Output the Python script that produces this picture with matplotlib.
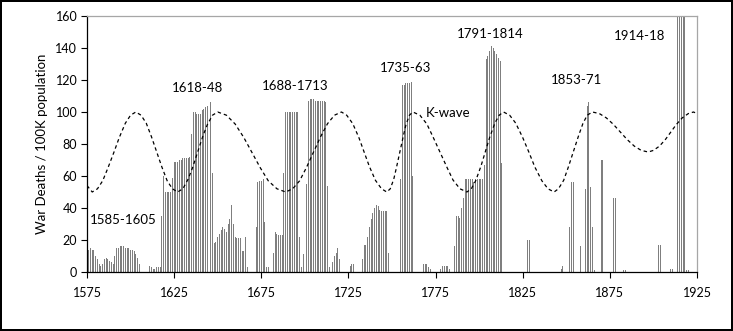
import matplotlib
matplotlib.use("Agg")
import matplotlib.pyplot as plt
import numpy as np

plt.rcParams['font.family'] = ['Lato', 'DejaVu Sans']

first_year = 1575
deaths = [
    # 1575-1579
    7, 14, 15, 14, 14,
    # 1580s
    10, 8, 5, 4, 5, 8, 9, 8, 7, 6,
    # 1590s
    5, 10, 15, 15, 16, 16, 16, 15, 15, 15,
    # 1600s
    14, 14, 13, 11, 9, 5, 0, 0, 0, 0,
    # 1610s
    4, 4, 3, 2, 2, 3, 3, 3, 35, 60,
    # 1620s
    50, 50, 50, 50, 59, 69, 69, 69, 70, 70,
    # 1630s
    71, 71, 71, 71, 72, 86, 100, 100, 99, 99,
    # 1640s
    99, 101, 102, 103, 104, 105, 106, 62, 18, 19,
    # 1650s
    22, 24, 26, 28, 27, 25, 30, 33, 42, 30,
    # 1660s
    22, 21, 21, 21, 13, 13, 22, 3, 0, 0,
    # 1670s
    0, 0, 28, 56, 57, 57, 58, 31, 3, 3,
    # 1680s
    0, 0, 12, 25, 24, 23, 23, 23, 62, 100,
    # 1690s
    100, 100, 100, 100, 100, 100, 100, 22, 3, 11,
    # 1700s
    0, 55, 107, 108, 108, 108, 107, 107, 107, 107,
    # 1710s
    107, 107, 106, 54, 3, 3, 6, 10, 12, 15,
    # 1720s
    8, 0, 0, 0, 0, 0, 4, 5, 5, 0,
    # 1730s
    0, 0, 0, 8, 17, 17, 22, 28, 33, 37,
    # 1740s
    40, 42, 41, 39, 38, 38, 38, 38, 12, 0,
    # 1750s
    0, 0, 0, 0, 0, 58, 117, 117, 118, 118,
    # 1760s
    118, 119, 60, 0, 0, 0, 0, 0, 5, 5,
    # 1770s
    5, 3, 2, 0, 0, 0, 0, 0, 2, 4,
    # 1780s
    4, 4, 4, 2, 0, 0, 16, 35, 35, 34,
    # 1790s
    40, 46, 58, 58, 58, 58, 58, 56, 58, 58,
    # 1800s
    58, 58, 58, 67, 133, 135, 138, 141, 140, 138,
    # 1810s
    136, 134, 132, 68, 0, 0, 0, 0, 0, 0,
    # 1820s
    0, 0, 0, 0, 0, 0, 0, 0, 20, 20,
    # 1830s
    0, 0, 0, 0, 0, 0, 0, 0, 0, 0,
    # 1840s
    0, 0, 0, 0, 0, 0, 0, 2, 4, 0,
    # 1850s
    0, 0, 28, 56, 56, 28, 0, 0, 16, 0,
    # 1860s
    0, 52, 104, 106, 53, 28, 1, 0, 0, 0,
    # 1870s
    70, 70, 0, 0, 0, 0, 0, 46, 46, 0,
    # 1880s
    0, 0, 0, 1, 1, 0, 0, 0, 0, 0,
    # 1890s
    0, 0, 0, 0, 0, 0, 0, 0, 0, 0,
    # 1900s
    0, 0, 0, 17, 17, 0, 0, 0, 0, 0,
    # 1910s
    2, 2, 0, 0, 200, 220, 230, 240, 210, 1,
    # 1920-1925
    1, 0, 0, 0, 0, 0,
]
years = np.arange(first_year, first_year + len(deaths))

kwave_years = [1575, 1578, 1581, 1584, 1587, 1590.5, 1593.5, 1597, 1600, 1603,
               1606, 1609, 1612, 1615, 1618, 1621, 1624, 1627, 1630, 1633,
               1635.5, 1638.5, 1641.5, 1644, 1647, 1650, 1655, 1660, 1665, 1669.5,
               1674.5, 1679, 1684, 1689, 1693, 1697, 1701, 1705, 1709, 1713,
               1717, 1721, 1724, 1727.5, 1731, 1734, 1737, 1740.5, 1744, 1747,
               1749, 1751, 1752.5, 1754.5, 1756.5, 1758, 1760, 1762, 1766, 1770,
               1773.5, 1777.5, 1781.5, 1785, 1789, 1793, 1795.5, 1798, 1801, 1803.5,
               1806, 1809, 1811.5, 1814, 1817.5, 1821, 1825, 1828.5, 1832, 1836,
               1839.5, 1843, 1845.5, 1848.5, 1851, 1854, 1857, 1859.5, 1862, 1865,
               1869, 1873, 1877, 1881, 1885, 1889, 1893, 1897, 1900, 1903.5,
               1907, 1910, 1913, 1916.5, 1920, 1923, 1925]
kwave_values = [54, 50, 52, 57, 65, 75, 84, 93, 98, 100,
                98, 93, 84.5, 75, 65.5, 57, 52, 50, 52, 58,
                65, 75, 85, 92, 98, 100, 98, 92.5, 84, 75,
                65, 57, 52, 50, 52, 57, 65.5, 75, 84.5, 92.7,
                98, 100, 98, 92.7, 84, 75, 66, 57.3, 52, 50,
                52, 58, 65, 75, 85, 92, 98, 100, 98, 92.5,
                84.5, 75, 65.5, 57.5, 52, 50, 52, 57, 66, 75,
                84, 93, 98, 100, 98, 93, 84, 75, 65.5, 57,
                52, 50, 52, 57.3, 65, 75, 85, 92.7, 98, 100,
                99, 96.3, 92.3, 87.5, 82.7, 78.7, 76, 75, 76, 78.7,
                83, 87.5, 92, 96.3, 99, 100, 99]

labels = ["1585-1605", "1618-48", "1688-1713", "1735-63", "K-wave",
          "1791-1814", "1853-71", "1914-18"]
label_x = [1596, 1638.5, 1694.5, 1757.5, 1782, 1806.5, 1856, 1892]
label_y = [32.5, 115, 116, 127.5, 99.5, 148.5, 120, 147.5]

x_ticks = [1575, 1625, 1675, 1725, 1775, 1825, 1875, 1925]
y_ticks = [0, 20, 40, 60, 80, 100, 120, 140, 160]

fig = plt.figure(figsize=(7.33, 3.31), dpi=100)
ax = fig.add_axes([87 / 733, 59 / 331, 610 / 733, 256 / 331])

ax.bar(years, deaths, width=0.55, color='#7f7f7f', edgecolor='none', zorder=2)
ax.plot(kwave_years, kwave_values, color='black', lw=0.9,
        linestyle=(0, (2.8, 2.4)), zorder=3)

for t, lx, ly in zip(labels, label_x, label_y):
    ax.text(lx, ly, t, ha='center', va='center', fontsize=9.5, color='black')

ax.set_xlim(1575, 1925)
ax.set_ylim(0, 160)
ax.set_xticks(x_ticks)
ax.set_yticks(y_ticks)
ax.tick_params(axis='both', direction='out', length=4, width=0.8,
               labelsize=9, colors='black', pad=3)
ax.tick_params(axis='x', pad=7)
ax.set_ylabel('War Deaths / 100K population', fontsize=9.5, labelpad=5)

for s in ['left', 'bottom']:
    ax.spines[s].set_color('black')
    ax.spines[s].set_linewidth(0.9)
for s in ['top', 'right']:
    ax.spines[s].set_color('#a6a6a6')
    ax.spines[s].set_linewidth(0.9)

fig.patch.set_edgecolor('black')
fig.patch.set_linewidth(1.5)
fig.savefig('out.png', dpi=100, facecolor='white', edgecolor='black')
